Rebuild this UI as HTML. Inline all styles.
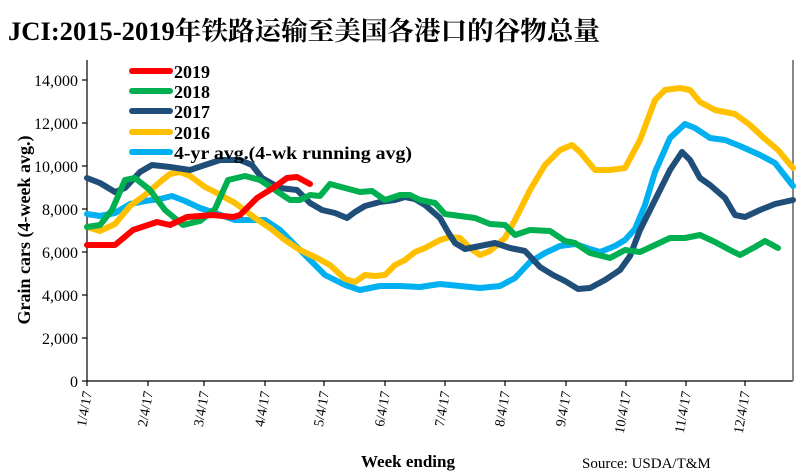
<!DOCTYPE html>
<html><head><meta charset="utf-8"><style>
body{margin:0;background:#fff;}
svg{display:block;font-family:"Liberation Serif","Noto Serif CJK SC",serif;}
</style></head><body>
<svg width="806" height="473" viewBox="0 0 806 473">
<rect width="806" height="473" fill="#fff"/>
<text x="8" y="40" font-size="26" font-weight="bold" fill="#000" textLength="592" lengthAdjust="spacingAndGlyphs">JCI:2015-2019年铁路运输至美国各港口的谷物总量</text>
<g font-size="16" text-anchor="end" fill="#000">
<text x="78" y="387">0</text><text x="78" y="344">2,000</text><text x="78" y="301">4,000</text><text x="78" y="258">6,000</text><text x="78" y="215">8,000</text><text x="78" y="172">10,000</text><text x="78" y="129">12,000</text><text x="78" y="86">14,000</text>
</g>
<g stroke="#000" stroke-width="1.2">
<line x1="87" y1="60" x2="87" y2="381"/><line x1="87" y1="381" x2="793" y2="381"/>
<line x1="82" y1="381" x2="87" y2="381"/><line x1="82" y1="338" x2="87" y2="338"/><line x1="82" y1="295" x2="87" y2="295"/><line x1="82" y1="252" x2="87" y2="252"/><line x1="82" y1="209" x2="87" y2="209"/><line x1="82" y1="166" x2="87" y2="166"/><line x1="82" y1="123" x2="87" y2="123"/><line x1="82" y1="80" x2="87" y2="80"/>
</g>
<line x1="793" y1="60" x2="793" y2="381" stroke="#888" stroke-width="2"/>
<g stroke="#000" stroke-width="1.2">
<line x1="87" y1="381" x2="87" y2="386"/><line x1="148" y1="381" x2="148" y2="386"/><line x1="204" y1="381" x2="204" y2="386"/><line x1="265" y1="381" x2="265" y2="386"/><line x1="324" y1="381" x2="324" y2="386"/><line x1="385" y1="381" x2="385" y2="386"/><line x1="445" y1="381" x2="445" y2="386"/><line x1="505" y1="381" x2="505" y2="386"/><line x1="566" y1="381" x2="566" y2="386"/><line x1="626" y1="381" x2="626" y2="386"/><line x1="686" y1="381" x2="686" y2="386"/><line x1="745" y1="381" x2="745" y2="386"/>
</g>
<g font-size="14" text-anchor="end" fill="#000">
<text transform="translate(92,392) rotate(-80)">1/4/17</text>
<text transform="translate(153,392) rotate(-80)">2/4/17</text>
<text transform="translate(209,392) rotate(-80)">3/4/17</text>
<text transform="translate(270,392) rotate(-80)">4/4/17</text>
<text transform="translate(329,392) rotate(-80)">5/4/17</text>
<text transform="translate(390,392) rotate(-80)">6/4/17</text>
<text transform="translate(450,392) rotate(-80)">7/4/17</text>
<text transform="translate(510,392) rotate(-80)">8/4/17</text>
<text transform="translate(571,392) rotate(-80)">9/4/17</text>
<text transform="translate(631,392) rotate(-80)">10/4/17</text>
<text transform="translate(691,392) rotate(-80)">11/4/17</text>
<text transform="translate(750,392) rotate(-80)">12/4/17</text>
</g>
<text transform="translate(30,230) rotate(-90)" font-size="18" font-weight="bold" text-anchor="middle">Grain cars (4-week avg.)</text>
<text x="408" y="467" font-size="17" font-weight="bold" text-anchor="middle">Week ending</text>
<text x="582" y="468" font-size="15">Source: USDA/T&amp;M</text>
<g fill="none" stroke-width="6" stroke-linejoin="round" stroke-linecap="round">
<polyline stroke="#00b0f0" points="87,214 100,216 115,213 130,204 145,201 160,199 172,196 185,201 200,208 215,213 235,220 250,220 265,220 280,230 295,245 310,260 325,275 345,285 360,290 380,286 400,286 420,287 440,284 460,286 480,288 500,286 515,278 530,262 545,253 560,246 575,244 590,249 600,252 615,246 625,240 635,229 645,205 655,172 670,138 685,124 695,128 710,138 725,140 740,146 760,155 775,163 793,186"/>
<polyline stroke="#ffc000" points="87,227 100,231 115,224 130,206 145,195 160,182 170,174 180,172 190,176 205,187 215,192 235,203 255,218 270,228 285,240 300,250 317,258 330,265 345,279 355,282 365,275 375,276 385,275 395,265 405,260 415,252 425,248 440,240 450,237 460,238 470,248 480,255 490,251 505,238 515,220 530,190 545,165 560,150 572,145 580,152 595,170 610,170 625,168 640,140 655,100 665,90 680,88 690,90 700,102 715,110 735,114 750,125 765,139 778,150 793,168"/>
<polyline stroke="#1f4e79" points="87,178 100,183 115,192 125,188 140,172 152,165 170,167 190,170 205,165 220,160 240,160 252,165 262,178 280,188 297,190 310,203 322,210 335,213 347,218 355,212 365,206 380,202 395,200 405,197 415,199 425,205 440,218 448,232 455,243 465,249 480,246 495,243 510,248 525,251 540,267 553,275 565,281 578,289 590,288 605,280 620,270 630,256 640,230 655,200 670,170 682,152 690,160 700,178 710,185 725,198 735,215 745,217 760,210 775,204 793,200"/>
<polyline stroke="#00b050" points="87,227 100,225 112,210 125,180 135,178 150,190 165,210 183,225 200,221 215,209 228,180 245,176 260,180 275,190 290,200 300,200 310,195 320,196 330,184 345,188 360,192 372,191 385,200 400,195 410,195 420,200 435,203 445,214 460,216 475,218 490,224 505,225 515,235 530,230 550,231 565,241 575,243 590,253 610,258 625,250 640,252 655,245 670,238 685,238 700,235 715,242 730,250 740,255 755,247 765,241 778,248"/>
<polyline stroke="#ff0000" points="87,245 115,245 133,230 157,222 170,225 187,217 213,215 233,217 240,215 257,198 273,188 287,178 297,177 310,184"/>
</g>
<g stroke-width="6" stroke-linecap="round">
<line x1="132" y1="71" x2="170" y2="71" stroke="#ff0000"/>
<line x1="132" y1="91" x2="170" y2="91" stroke="#00b050"/>
<line x1="132" y1="111" x2="170" y2="111" stroke="#1f4e79"/>
<line x1="132" y1="132" x2="170" y2="132" stroke="#ffc000"/>
<line x1="132" y1="152" x2="170" y2="152" stroke="#00b0f0"/>
</g>
<g font-size="18" font-weight="bold" fill="#000">
<text x="174" y="78">2019</text><text x="174" y="98">2018</text><text x="174" y="118">2017</text><text x="174" y="139">2016</text><text x="174" y="159" textLength="238" lengthAdjust="spacingAndGlyphs">4-yr avg.(4-wk running avg)</text>
</g>
</svg>
</body></html>
